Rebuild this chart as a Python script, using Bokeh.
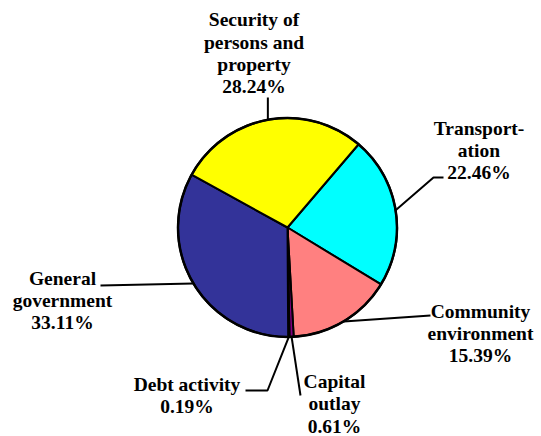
import math
from bokeh.plotting import figure
from bokeh.models import Range1d
from bokeh.core.properties import value
from bokeh.embed import file_html
from bokeh.resources import INLINE

# ---- data ----
categories = ["Transport-\nation", "Community\nenvironment", "Capital\noutlay",
              "Debt activity", "General\ngovernment", "Security of\npersons and\nproperty"]
percents = [22.46, 15.39, 0.61, 0.19, 33.11, 28.24]
colors = ["#00FFFF", "#FF8080", "#800080", "#000080", "#333399", "#FFFF00"]

# ---- layout (page pixel coords, converted to data) ----
W, H = 541, 436
def Y(py):
    return H - py

cx, cy, r = 287.0, Y(227.0), 109.5
theta0 = math.radians(49.5)   # boundary between Security and Transportation

p = figure(width=W, height=H, output_backend="svg", toolbar_location=None,
           x_range=Range1d(0, W), y_range=Range1d(0, H),
           min_border=0)
p.axis.visible = False
p.grid.visible = False
p.outline_line_color = None
p.background_fill_color = "white"

total = sum(percents)
cum = [0.0]
for v in percents:
    cum.append(cum[-1] + v)
starts, ends, mids = [], [], []
for i in range(len(percents)):
    a_end = theta0 - 2 * math.pi * cum[i] / total
    a_start = theta0 - 2 * math.pi * cum[i + 1] / total
    starts.append(a_start)
    ends.append(a_end)
    mids.append((a_start + a_end) / 2)

p.wedge(x=cx, y=cy, radius=r, start_angle=starts, end_angle=ends,
        fill_color=colors, line_color="black", line_width=2, direction="anticlock")
p.circle(x=cx, y=cy, radius=r, fill_color=None, line_color="black", line_width=2.5)

# leader lines: start on slice edge at mid-angle, then via layout points
leader_pts = [
    [(433, 177), (443, 177)],      # Transportation
    [(430, 315)],                  # Community
    [(300, 395)],                  # Capital outlay
    [(267, 390), (245, 390)],      # Debt
    [(100, 285)],                  # General
    [None],                        # Security (vertical)
]
xs, ys = [], []
for i, m in enumerate(mids):
    sx = cx + r * math.cos(m)
    sy = cy + r * math.sin(m)
    lx, ly = [sx], [sy]
    for pt in leader_pts[i]:
        if pt is None:
            lx.append(sx); ly.append(Y(97))
        else:
            lx.append(pt[0]); ly.append(Y(pt[1]))
    xs.append(lx); ys.append(ly)
p.multi_line(xs=xs, ys=ys, line_color="black", line_width=2)

# labels (x centre, first baseline in page px)
label_pos = [(478.5, 135), (480, 318), (334, 388.5), (186.5, 391.5), (62, 285), (253.5, 26.7)]
spacing = 22.3
fs = 19.5
dy = 0.375 * fs   # baseline correction for svg text
tx, ty, tt = [], [], []
for i, cat in enumerate(categories):
    lines = cat.split("\n") + ["%.2f%%" % percents[i]]
    x0, y0 = label_pos[i]
    for j, ln in enumerate(lines):
        tx.append(x0); ty.append(Y(y0 + j * spacing - dy)); tt.append(ln)
p.text(x=tx, y=ty, text=tt, text_align="center", text_baseline="alphabetic",
       text_font=value("Liberation Serif"), text_font_style="bold",
       text_font_size="%.1fpx" % fs, text_color="black")

open("out.html", "w").write(file_html(p, INLINE))
